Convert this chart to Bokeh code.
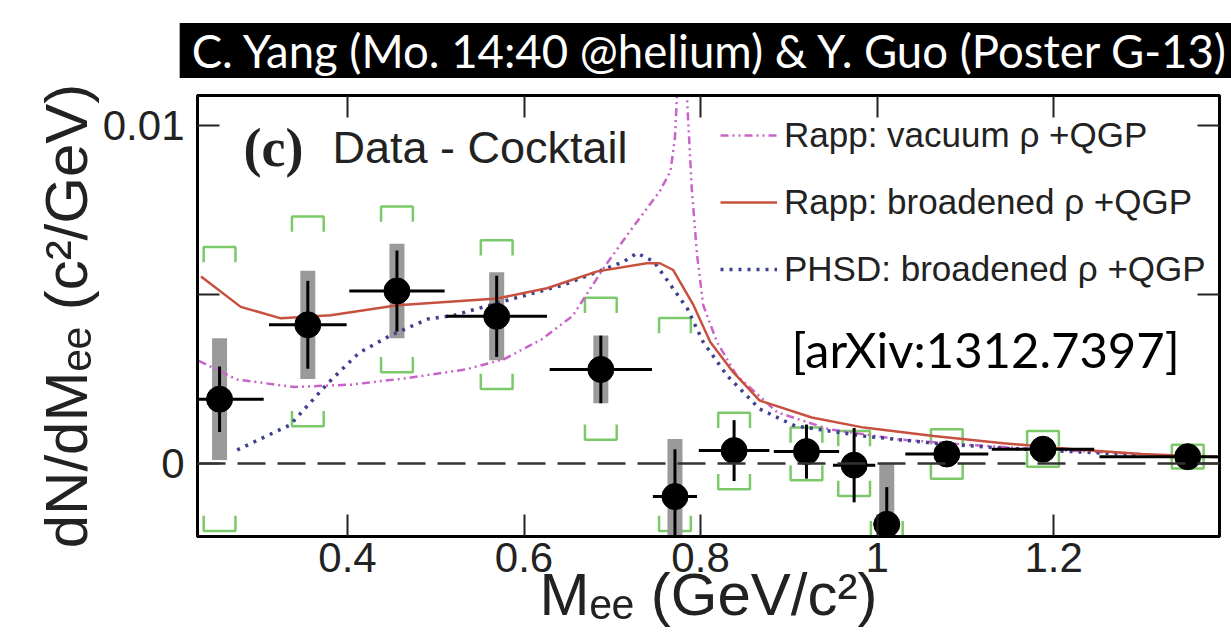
from bokeh.plotting import figure
from bokeh.models import (Range1d, FixedTicker, LinearAxis, Span, Label, Legend, Title,
                          LegendItem, ColumnDataSource, CustomJSTickFormatter)
from bokeh.embed import file_html
from bokeh.resources import INLINE

# Measured excess yield (data - cocktail)
m_ee = [0.255, 0.355, 0.456, 0.569, 0.687, 0.771, 0.838, 0.920, 0.974, 1.011, 1.079, 1.188, 1.352]
dn_dm = [0.0019, 0.0041, 0.0051, 0.00435, 0.00278, -0.00098, 0.00038, 0.00035, -0.00005,
         -0.0018, 0.00028, 0.00042, 0.0002]
m_halfwidth = [0.05, 0.044, 0.054, 0.057, 0.058, 0.025, 0.04, 0.037, 0.024, 0.015, 0.047, 0.058, 0.1]
stat_err = [0.00097, 0.0013, 0.0012, 0.0012, 0.001, 0.0014, 0.0009, 0.0008, 0.0011, 0.0011,
            0.0002, 0.0002, 0.0002]
sys_err = [0.0018, 0.0016, 0.0014, 0.0013, 0.001, 0.0017, 0.0002, 0.0002, 0.0002, 0.0018,
           0.0001, 0.0001, 0.0001]
# cocktail uncertainty band edges
cocktail_hi = [0.0064, 0.0073, 0.0076, 0.0066, 0.0049, 0.0043, 0.0015, 0.00106, 0.00096,
               float("nan"), 0.00101, 0.00096, 0.00055]
cocktail_lo = [-0.0020, 0.0011, 0.0027, 0.0022, 0.0007, -0.0020, -0.00076, -0.0005, -0.00096,
               -0.00215, -0.00045, -0.0001, -0.00015]

# Model curves
vac_m = [0.2315, 0.275, 0.3395, 0.404, 0.469, 0.534, 0.577, 0.620, 0.655, 0.690, 0.717, 0.754,
         0.766, 0.771, 0.773, 0.779, 0.7846, 0.790, 0.796, 0.803, 0.8186, 0.841, 0.887, 0.946,
         1.025, 1.1035, 1.182, 1.30]
vac_y = [0.00303, 0.00248, 0.00226, 0.00233, 0.00253, 0.00278, 0.00308, 0.00367, 0.00436,
         0.00577, 0.00676, 0.00806, 0.00865, 0.00964, 0.01073, 0.016, 0.01083, 0.00815, 0.00617,
         0.00468, 0.00359, 0.0026, 0.00151, 0.00101, 0.00071, 0.00055, 0.00042, 0.00028]

brd_m = [0.234, 0.279, 0.3245, 0.381, 0.4566, 0.570, 0.626, 0.683, 0.739, 0.754, 0.769, 0.792,
         0.811, 0.837, 0.867, 0.926, 0.985, 1.064, 1.143, 1.222, 1.30, 1.39]
brd_y = [0.00553, 0.00463, 0.00429, 0.00438, 0.00468, 0.00488, 0.00518, 0.00568, 0.00592,
         0.00592, 0.00572, 0.00468, 0.00359, 0.0027, 0.00186, 0.00136, 0.00106, 0.00081,
         0.0006, 0.00042, 0.00028, 0.00018]

phsd_m = [0.275, 0.335, 0.378, 0.413, 0.4475, 0.491, 0.5206, 0.5885, 0.645, 0.713, 0.728, 0.747,
          0.766, 0.785, 0.803, 0.830, 0.867, 0.907, 0.985, 1.064, 1.143, 1.222, 1.30]
phsd_y = [0.0004, 0.00114, 0.00238, 0.00327, 0.00377, 0.00427, 0.00438, 0.00488, 0.00528,
          0.00597, 0.00622, 0.00597, 0.00528, 0.00458, 0.00359, 0.0026, 0.00161, 0.00111,
          0.00081, 0.0006, 0.00045, 0.00035, 0.00025]

x_ticks = [0.4, 0.6, 0.8, 1.0, 1.2]
y_ticks = [0.0, 0.01]
y_unlabelled_ticks = [0.005]

HELV = "Liberation Sans"

p = figure(width=1231, height=642, x_range=Range1d(0.23, 1.388), y_range=Range1d(-0.00216, 0.01088),
           output_backend="svg", toolbar_location=None,
           min_border_left=197, min_border_right=12, min_border_top=95, min_border_bottom=106,
           background_fill_color="white", border_fill_color="white",
           outline_line_color="black", outline_line_width=3)
p.grid.visible = False

# axes
fmt = CustomJSTickFormatter(code="return String(+tick.toFixed(4));")

for ax, ticks, minor in ((p.xaxis[0], x_ticks, []), (p.yaxis[0], y_ticks, y_unlabelled_ticks)):
    ax.ticker = FixedTicker(ticks=ticks, minor_ticks=minor)
    ax.formatter = fmt
    ax.major_tick_in = 22
    ax.major_tick_out = 0
    ax.major_tick_line_width = 2
    ax.major_tick_line_color = "#222222"
    ax.minor_tick_in = 22
    ax.minor_tick_out = 0
    ax.minor_tick_line_width = 2
    ax.minor_tick_line_color = "#222222"
    ax.axis_line_width = 3
    ax.major_label_text_font = HELV
    ax.major_label_text_font_size = "42px"
    ax.major_label_text_color = "#222222"
    ax.major_label_standoff = 13
    ax.axis_label_text_font = HELV
    ax.axis_label_text_font_size = "60px"
    ax.axis_label_text_font_style = "normal"
    ax.axis_label_text_color = "#222222"
    ax.axis_label_standoff = 0

p.xaxis[0].axis_label = "Mₑₑ (GeV/c²)"
p.xaxis[0].major_label_standoff = 6
p.xaxis[0].axis_label_standoff = -14
p.yaxis[0].axis_label = "dN/dMₑₑ (c²/GeV)"

# mirrored tick marks on the top and right edges (tick marks only, no labels)
for ticks, side in ((x_ticks, "above"), (y_ticks + y_unlabelled_ticks, "right")):
    ax = LinearAxis(ticker=FixedTicker(ticks=[], minor_ticks=ticks),
                    minor_tick_in=22, minor_tick_out=0, minor_tick_line_width=2,
                    minor_tick_line_color="#222222", major_tick_line_color=None,
                    axis_line_width=3, major_label_standoff=0)
    p.add_layout(ax, side)

# zero line
p.add_layout(Span(location=0, dimension="width", line_color="#333333", line_width=2.5,
                  line_dash="28 12"))

# cocktail uncertainty brackets
bw = 0.018
leg = 0.00045
top_xs = [[x - bw, x - bw, x + bw, x + bw] for x in m_ee]
top_ys = [[h - leg, h, h, h - leg] for h in cocktail_hi]
bot_ys = [[l + leg, l, l, l + leg] for l in cocktail_lo]
p.multi_line(top_xs + top_xs, top_ys + bot_ys, line_color="#7cc96a", line_width=2.5)

src = ColumnDataSource(dict(
    x=m_ee, y=dn_dm,
    xl=[x - w for x, w in zip(m_ee, m_halfwidth)],
    xr=[x + w for x, w in zip(m_ee, m_halfwidth)],
    yl=[y - e for y, e in zip(dn_dm, stat_err)],
    yh=[y + e for y, e in zip(dn_dm, stat_err)],
    bl=[x - 0.0085 for x in m_ee],
    br=[x + 0.0085 for x in m_ee],
    sl=[y - e for y, e in zip(dn_dm, sys_err)],
    sh=[y + e for y, e in zip(dn_dm, sys_err)],
))

# systematic boxes
p.quad(left="bl", right="br", bottom="sl", top="sh", source=src,
       fill_color="#9a9a9a", line_color=None)

# model curves
r_vac = p.line(vac_m, vac_y, line_color="#c864c8", line_width=2.5, line_dash="8 4 2 4 2 4")
r_phsd = p.line(phsd_m, phsd_y, line_color="#3f3f8f", line_width=3.5, line_dash="3 6")
r_brd = p.line(brd_m, brd_y, line_color="#c8503f", line_width=2.5)

# statistical error bars and points
p.segment(x0="xl", x1="xr", y0="y", y1="y", source=src, line_color="black", line_width=3)
p.segment(x0="x", x1="x", y0="yl", y1="yh", source=src, line_color="black", line_width=3)
p.scatter(x="x", y="y", source=src, size=26, marker="circle", fill_color="black", line_color="black")

legend = Legend(items=[
    LegendItem(label="Rapp: vacuum ρ +QGP", renderers=[r_vac]),
    LegendItem(label="Rapp: broadened ρ +QGP", renderers=[r_brd]),
    LegendItem(label="PHSD: broadened ρ +QGP", renderers=[r_phsd]),
], location=(523, 247), label_text_font=HELV, label_text_font_size="35px",
    label_text_color="#222222", glyph_width=57, glyph_height=40, label_height=40,
    spacing=27, padding=0, margin=0, label_standoff=7,
    border_line_color=None, background_fill_alpha=0)
p.add_layout(legend)

# panel texts
p.add_layout(Label(x=46, y=389, x_units="screen", y_units="screen", text="(c)",
                   text_font="Liberation Serif", text_font_style="bold", text_font_size="54px",
                   text_color="#222222", text_baseline="alphabetic"))
p.add_layout(Label(x=135, y=389, x_units="screen", y_units="screen", text="Data - Cocktail",
                   text_font=HELV, text_font_size="45px", text_color="#222222",
                   text_baseline="alphabetic"))
p.add_layout(Label(x=594, y=188, x_units="screen", y_units="screen", text="[arXiv:1312.7397]",
                   text_font="Lato", text_font_size="49px", text_color="black",
                   text_baseline="alphabetic"))

# session banner
p.add_layout(Title(text="C. Yang (Mo. 14:40 @helium) & Y. Guo (Poster G-13)", align="right",
                   text_font="Lato", text_font_size="45.5px", text_font_style="normal",
                   text_color="white", background_fill_color="black", padding=(12, 0),
                   standoff=35, offset=-23), "above")

open("out.html", "w").write(file_html(p, INLINE))
